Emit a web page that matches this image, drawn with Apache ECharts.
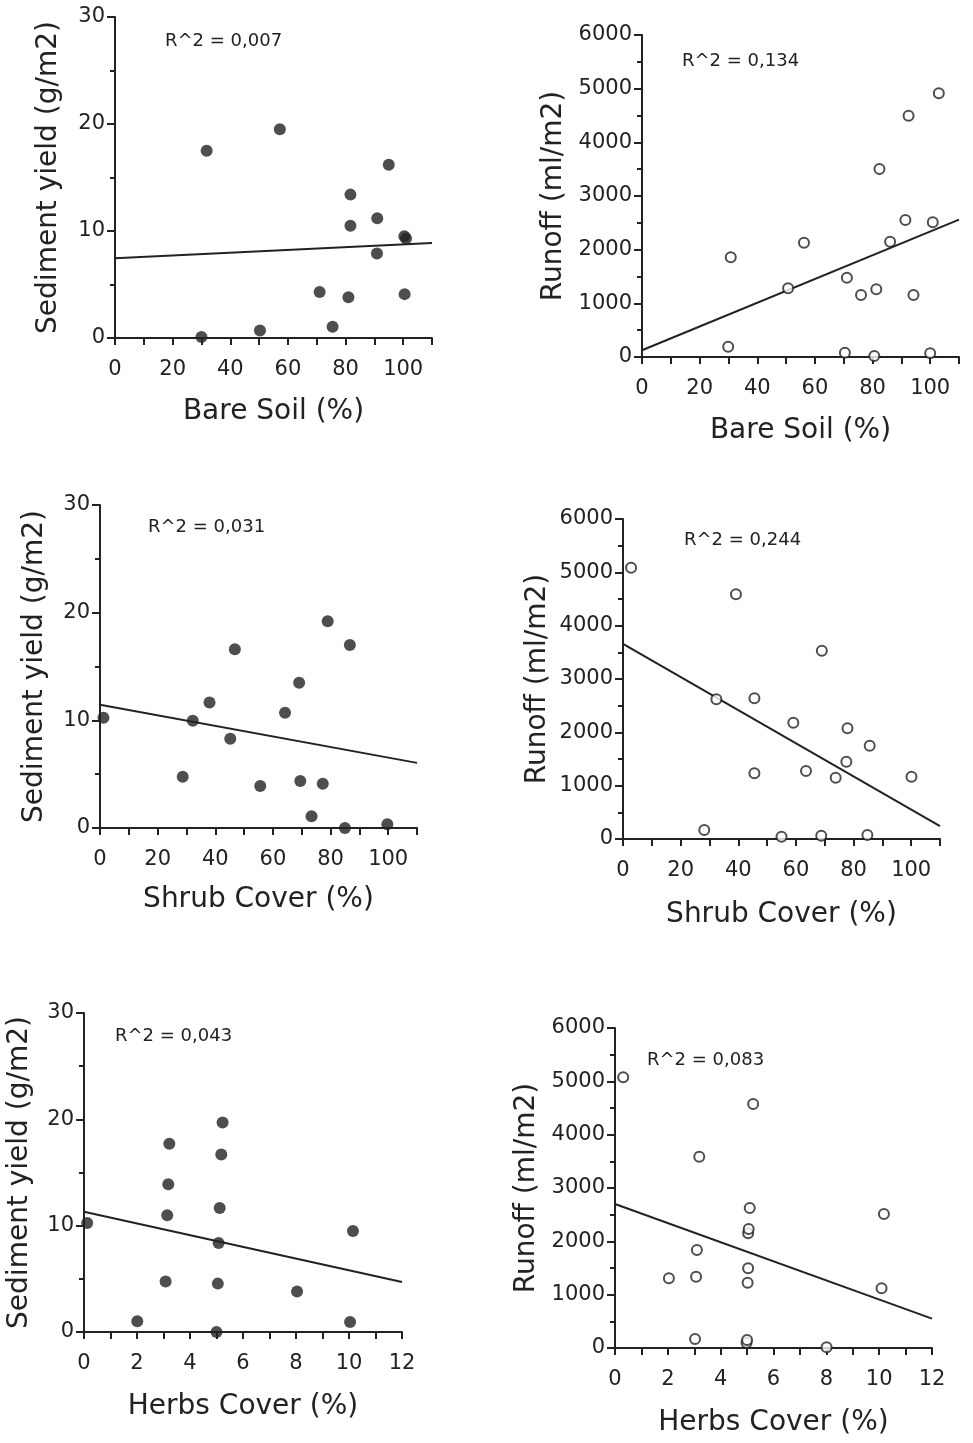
<!DOCTYPE html>
<html>
<head>
<meta charset="utf-8">
<script src="https://cdn.jsdelivr.net/npm/echarts@6/dist/echarts.min.js"></script>
<style>html,body{margin:0;padding:0;background:#fff;}#c{width:973px;height:1443px;}</style>
</head>
<body>
<div id="c"></div>
<script>
// ---- data ----
const bareSoilSediment = [[30,0.1],[31.8,17.5],[57.2,19.5],[50.3,0.7],[71,4.3],[75.5,1.05],[81,3.8],[81.7,13.4],[81.7,10.5],[91,11.2],[90.9,7.9],[95,16.2],[100.4,9.5],[101,9.3],[100.5,4.1]];
const bareSoilRunoff = [[30.8,1858],[29.9,192],[50.7,1280],[56.2,2130],[71.1,1478],[70.4,80],[76,1155],[81.3,1262],[80.6,19],[82.4,3503],[86.1,2149],[91.4,2553],[92.5,4497],[94.2,1155],[100.9,2510],[100,69],[103,4914]];
const shrubSediment = [[1.2,10.24],[28.7,4.77],[32.2,9.97],[38,11.65],[45.2,8.3],[46.8,16.6],[55.6,3.9],[64.2,10.7],[69.1,13.5],[69.5,4.37],[73.4,1.1],[77.3,4.1],[79,19.2],[86.7,17],[85,0],[99.7,0.34]];
const shrubRunoff = [[2.8,5087],[28.2,169],[32.4,2619],[39.2,4588],[45.6,2638],[45.6,1232],[55,44],[59.1,2181],[63.5,1275],[68.8,62],[69,3531],[73.8,1150],[77.5,1450],[77.9,2075],[84.8,75],[85.6,1750],[100.1,1168]];
const herbsSediment = [[0.12,10.25],[2.01,1.0],[3.08,4.76],[3.14,10.97],[3.18,13.9],[3.22,17.7],[5.0,0],[5.05,4.55],[5.08,8.37],[5.12,11.66],[5.18,16.7],[5.23,19.7],[8.04,3.8],[10.04,0.94],[10.15,9.5]];
const herbsRunoff = [[0.31,5076],[2.04,1307],[3.03,169],[3.07,1337],[3.1,1838],[3.19,3587],[4.98,100],[5.0,150],[5.02,1225],[5.04,1494],[5.04,2150],[5.06,2230],[5.1,2625],[5.23,4575],[8.01,12],[10.09,1119],[10.18,2512]];

const trendLines = [
  [[0,7.45],[110,8.89]],
  [[0,125],[110,2560]],
  [[0,11.45],[110,6.05]],
  [[0,3660],[110,240]],
  [[0,11.3],[12,4.7]],
  [[0,2700],[12,550]]
];
const r2Labels = ['R^2 = 0,007','R^2 = 0,134','R^2 = 0,031','R^2 = 0,244','R^2 = 0,043','R^2 = 0,083'];
const xNames = ['Bare Soil (%)','Bare Soil (%)','Shrub Cover (%)','Shrub Cover (%)','Herbs Cover (%)','Herbs Cover (%)'];
const yNames = ['Sediment yield (g/m2)','Runoff (ml/m2)','Sediment yield (g/m2)','Runoff (ml/m2)','Sediment yield (g/m2)','Runoff (ml/m2)'];
const panelData = [bareSoilSediment, bareSoilRunoff, shrubSediment, shrubRunoff, herbsSediment, herbsRunoff];

// ---- layout ----
const FONT = 'DejaVu Sans';
const INK = '#222';
const grids = [
  {left:115, top:17,   width:317, height:321},
  {left:642, top:35,   width:317, height:322},
  {left:100, top:505,  width:317, height:323},
  {left:623, top:519,  width:317, height:320},
  {left:84,  top:1013, width:318, height:319},
  {left:615, top:1028, width:317, height:320}
];
const r2Pos = [[165,42],[682,62],[148,528],[684,541],[115,1037],[647,1061]];
const yGaps = [52,74,51,71,50,74];
const xGaps = [60,60,58,62,61,61];

const xAxes = [], yAxes = [], series = [], graphics = [];
for (let i = 0; i < 6; i++) {
  const herbs = i >= 4;
  const runoff = i % 2 === 1;
  xAxes.push({
    gridIndex: i, type: 'value', min: 0, max: herbs ? 12 : 110, interval: herbs ? 1 : 10,
    name: xNames[i], nameLocation: 'middle', nameGap: xGaps[i],
    nameTextStyle: {fontFamily: FONT, fontSize: 28, color: INK},
    axisLine: {show: true, onZero: false, lineStyle: {color: INK, width: 2}},
    axisTick: {show: true, length: 7, lineStyle: {color: INK, width: 2}},
    axisLabel: {
      margin: 21, fontFamily: FONT, fontSize: 21, color: INK,
      formatter: v => herbs ? (v % 2 === 0 ? String(v) : '') : ((v % 20 === 0 && v <= 100) ? String(v) : '')
    },
    splitLine: {show: false}
  });
  yAxes.push({
    gridIndex: i, type: 'value', min: 0, max: runoff ? 6000 : 30, interval: runoff ? 1000 : 10,
    name: yNames[i], nameLocation: 'middle', nameGap: yGaps[i],
    nameTextStyle: {fontFamily: FONT, fontSize: 28, color: INK},
    axisLine: {show: true, onZero: false, lineStyle: {color: INK, width: 2}},
    axisTick: {show: true, length: 8, lineStyle: {color: INK, width: 2}},
    minorTick: {show: true, splitNumber: 2, length: 5, lineStyle: {color: INK, width: 2}},
    axisLabel: {margin: 10, fontFamily: FONT, fontSize: 21, color: INK, formatter: v => String(v)},
    splitLine: {show: false}, minorSplitLine: {show: false}
  });
  series.push({
    type: 'scatter', xAxisIndex: i, yAxisIndex: i, data: panelData[i], clip: false,
    symbol: 'circle', symbolSize: runoff ? 10 : 12,
    itemStyle: runoff ? {color: '#fff', borderColor: INK, borderWidth: 2} : {color: INK},
    emphasis: {disabled: true}, z: 3
  });
  series.push({
    type: 'line', xAxisIndex: i, yAxisIndex: i, data: trendLines[i], symbol: 'none',
    lineStyle: {color: INK, width: 2}, silent: true, z: 2
  });
  graphics.push({
    type: 'text', left: r2Pos[i][0], top: r2Pos[i][1] - 10,
    style: {text: r2Labels[i], font: '18px "' + FONT + '"', fill: INK}
  });
}

const chart = echarts.init(document.getElementById('c'), null, {renderer: 'canvas'});
chart.setOption({
  backgroundColor: '#fff',
  animation: false,
  grid: grids,
  xAxis: xAxes,
  yAxis: yAxes,
  series: series,
  graphic: graphics
});
</script>
</body>
</html>
